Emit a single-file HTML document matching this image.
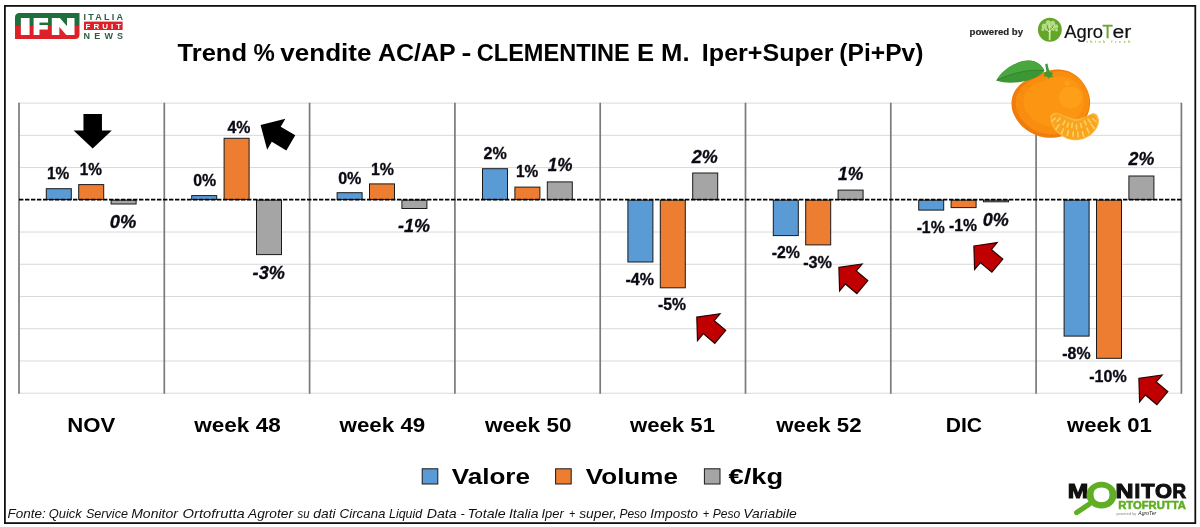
<!DOCTYPE html>
<html lang="it"><head><meta charset="utf-8"><title>Trend % vendite AC/AP - CLEMENTINE E M.</title>
<style>html,body{margin:0;padding:0;background:#fff;}body{width:1200px;height:527px;overflow:hidden;}svg{display:block;}text{white-space:pre;}</style>
</head><body>
<svg width="1200" height="527" viewBox="0 0 1200 527" role="img" aria-label="Trend % vendite AC/AP - CLEMENTINE E M. Iper+Super (Pi+Pv)">
<defs>
<linearGradient id="ifng" x1="0" y1="0" x2="0" y2="1"><stop offset="0" stop-color="#1f6e3b"/><stop offset="0.5" stop-color="#1f6e3b"/><stop offset="0.5" stop-color="#dc2128"/><stop offset="1" stop-color="#dc2128"/></linearGradient>
<radialGradient id="fr" cx="0.62" cy="0.45" r="0.65"><stop offset="0" stop-color="#fd9a12"/><stop offset="0.45" stop-color="#fb8f0c"/><stop offset="0.8" stop-color="#f5820b"/><stop offset="1" stop-color="#e9720a"/></radialGradient>
<linearGradient id="lf" x1="0" y1="0" x2="0.3" y2="1"><stop offset="0" stop-color="#46a13a"/><stop offset="1" stop-color="#2f8a2d"/></linearGradient>
</defs>
<rect width="1200" height="527" fill="#fff"/>
<rect x="4.9" y="5.9" width="1190.4" height="517.2" fill="#fff" stroke="#111" stroke-width="1.8"/>
<g stroke="#d9d9d9" stroke-width="1">
<line x1="19.0" y1="103.10" x2="1181.4" y2="103.10"/>
<line x1="19.0" y1="135.33" x2="1181.4" y2="135.33"/>
<line x1="19.0" y1="167.57" x2="1181.4" y2="167.57"/>
<line x1="19.0" y1="232.03" x2="1181.4" y2="232.03"/>
<line x1="19.0" y1="264.27" x2="1181.4" y2="264.27"/>
<line x1="19.0" y1="296.50" x2="1181.4" y2="296.50"/>
<line x1="19.0" y1="328.73" x2="1181.4" y2="328.73"/>
<line x1="19.0" y1="360.97" x2="1181.4" y2="360.97"/>
<line x1="19.0" y1="393.20" x2="1181.4" y2="393.20"/>
</g>
<g stroke="#7a7a7a" stroke-width="1.7">
<line x1="19.00" y1="102.8" x2="19.00" y2="393.8"/>
<line x1="164.30" y1="102.8" x2="164.30" y2="393.8"/>
<line x1="309.60" y1="102.8" x2="309.60" y2="393.8"/>
<line x1="454.90" y1="102.8" x2="454.90" y2="393.8"/>
<line x1="600.20" y1="102.8" x2="600.20" y2="393.8"/>
<line x1="745.50" y1="102.8" x2="745.50" y2="393.8"/>
<line x1="890.80" y1="102.8" x2="890.80" y2="393.8"/>
<line x1="1036.10" y1="102.8" x2="1036.10" y2="393.8"/>
<line x1="1181.40" y1="102.8" x2="1181.40" y2="393.8"/>
</g>
<g stroke="#1a1a1a" stroke-width="1">
<rect x="46.30" y="188.70" width="25.00" height="10.90" fill="#5b9bd5"/>
<rect x="78.70" y="184.60" width="25.00" height="15.00" fill="#ed7d31"/>
<rect x="111.10" y="200.10" width="25.00" height="3.90" fill="#a5a5a5"/>
<rect x="191.70" y="195.60" width="25.00" height="4.00" fill="#5b9bd5"/>
<rect x="224.10" y="138.30" width="25.00" height="61.30" fill="#ed7d31"/>
<rect x="256.50" y="200.10" width="25.00" height="54.50" fill="#a5a5a5"/>
<rect x="337.10" y="192.70" width="25.00" height="6.90" fill="#5b9bd5"/>
<rect x="369.50" y="183.90" width="25.00" height="15.70" fill="#ed7d31"/>
<rect x="401.90" y="200.10" width="25.00" height="8.40" fill="#a5a5a5"/>
<rect x="482.50" y="168.70" width="25.00" height="30.90" fill="#5b9bd5"/>
<rect x="514.90" y="187.10" width="25.00" height="12.50" fill="#ed7d31"/>
<rect x="547.30" y="181.90" width="25.00" height="17.70" fill="#a5a5a5"/>
<rect x="627.90" y="200.10" width="25.00" height="61.90" fill="#5b9bd5"/>
<rect x="660.30" y="200.10" width="25.00" height="87.70" fill="#ed7d31"/>
<rect x="692.70" y="173.00" width="25.00" height="26.60" fill="#a5a5a5"/>
<rect x="773.30" y="200.10" width="25.00" height="35.50" fill="#5b9bd5"/>
<rect x="805.70" y="200.10" width="25.00" height="44.80" fill="#ed7d31"/>
<rect x="838.10" y="190.10" width="25.00" height="9.50" fill="#a5a5a5"/>
<rect x="918.70" y="200.10" width="25.00" height="10.00" fill="#5b9bd5"/>
<rect x="951.10" y="200.10" width="25.00" height="7.50" fill="#ed7d31"/>
<rect x="983.50" y="200.10" width="25.00" height="1.70" fill="#a5a5a5"/>
<rect x="1064.10" y="200.10" width="25.00" height="136.00" fill="#5b9bd5"/>
<rect x="1096.50" y="200.10" width="25.00" height="158.20" fill="#ed7d31"/>
<rect x="1128.90" y="176.00" width="25.00" height="23.60" fill="#a5a5a5"/>
</g>
<line x1="19.0" y1="199.60" x2="1181.4" y2="199.60" stroke="#000" stroke-width="1.6" stroke-dasharray="4.4 1.6"/>
<polygon points="0.00,0.00 19.10,18.00 9.25,18.00 9.25,34.50 -9.25,34.50 -9.25,18.00 -19.10,18.00" transform="translate(92.70 148.50) rotate(180.00)" fill="#000"/>
<polygon points="0.00,0.00 17.90,18.20 8.75,18.20 8.75,35.10 -8.75,35.10 -8.75,18.20 -17.90,18.20" transform="translate(260.60 125.00) rotate(-59.40)" fill="#000"/>
<polygon points="0.00,0.00 17.50,15.60 8.50,15.60 8.50,30.60 -8.50,30.60 -8.50,15.60 -17.50,15.60" transform="translate(696.80 317.10) rotate(-50.00)" fill="#c00000" stroke="#2a0000" stroke-width="1.2" stroke-linejoin="miter"/>
<polygon points="0.00,0.00 17.50,15.60 8.50,15.60 8.50,30.60 -8.50,30.60 -8.50,15.60 -17.50,15.60" transform="translate(838.90 267.40) rotate(-50.00)" fill="#c00000" stroke="#2a0000" stroke-width="1.2" stroke-linejoin="miter"/>
<polygon points="0.00,0.00 17.50,15.60 8.50,15.60 8.50,30.60 -8.50,30.60 -8.50,15.60 -17.50,15.60" transform="translate(973.90 246.00) rotate(-50.00)" fill="#c00000" stroke="#2a0000" stroke-width="1.2" stroke-linejoin="miter"/>
<polygon points="0.00,0.00 17.50,15.60 8.50,15.60 8.50,30.60 -8.50,30.60 -8.50,15.60 -17.50,15.60" transform="translate(1138.90 378.40) rotate(-50.00)" fill="#c00000" stroke="#2a0000" stroke-width="1.2" stroke-linejoin="miter"/>
<rect x="422.2" y="468.8" width="15.6" height="15.2" fill="#5b9bd5" stroke="#1a1a1a" stroke-width="1"/>
<rect x="555.6" y="468.8" width="15.6" height="15.2" fill="#ed7d31" stroke="#1a1a1a" stroke-width="1"/>
<rect x="704.4" y="468.8" width="15.6" height="15.2" fill="#a5a5a5" stroke="#1a1a1a" stroke-width="1"/>
<path d="M19.5 13 H79.5 V34.5 Q79.5 39 75 39 H15 V17.5 Q15 13 19.5 13 Z" fill="url(#ifng)"/>
<rect x="84" y="21.6" width="38.6" height="8.4" fill="#dc2128"/>
<circle cx="1049.85" cy="29.8" r="11.95" fill="#63a628"/>
<g fill="none" stroke="#cfe9ac" stroke-linecap="round">
<path d="M1049.6 39.5 L1049.8 30.5" stroke-width="1.7"/>
<path d="M1049.8 33 L1045.5 28 M1049.8 31.5 L1054.5 26.5 M1049.8 30.5 L1049.5 24.5" stroke-width="1"/>
</g>
<g fill="#c4e39b" opacity="0.85">
<circle cx="1044.3" cy="26.2" r="2.6"/>
<circle cx="1048.2" cy="22.8" r="2.5"/>
<circle cx="1052.6" cy="23.2" r="2.5"/>
<circle cx="1055.8" cy="26.6" r="2.4"/>
<circle cx="1050.0" cy="26.4" r="2.2"/>
<circle cx="1042.8" cy="29.6" r="1.5"/>
<circle cx="1056.6" cy="30.2" r="1.4"/>
<circle cx="1046.4" cy="29.5" r="1.3"/>
<circle cx="1053.4" cy="29.6" r="1.3"/>
</g>
<g>
<path d="M1011.44 103.30 C1011.46 101.28 1011.71 99.19 1012.23 97.24 C1012.74 95.29 1013.57 93.36 1014.54 91.61 C1015.51 89.87 1016.75 88.23 1018.04 86.76 C1019.34 85.29 1020.82 83.98 1022.29 82.81 C1023.77 81.63 1025.36 80.63 1026.90 79.70 C1028.45 78.78 1030.03 78.01 1031.57 77.24 C1033.11 76.48 1034.61 75.77 1036.14 75.11 C1037.67 74.45 1039.19 73.87 1040.75 73.29 C1042.31 72.72 1043.86 72.15 1045.49 71.65 C1047.11 71.16 1048.77 70.66 1050.50 70.32 C1052.23 69.98 1054.02 69.70 1055.84 69.59 C1057.66 69.49 1059.56 69.47 1061.42 69.68 C1063.29 69.88 1065.22 70.24 1067.05 70.82 C1068.88 71.40 1070.69 72.21 1072.40 73.16 C1074.11 74.11 1075.77 75.24 1077.30 76.50 C1078.82 77.77 1080.25 79.21 1081.55 80.74 C1082.86 82.26 1084.08 83.92 1085.14 85.65 C1086.19 87.39 1087.15 89.24 1087.90 91.15 C1088.65 93.06 1089.25 95.08 1089.62 97.10 C1089.99 99.13 1090.15 101.24 1090.10 103.30 C1090.05 105.36 1089.78 107.45 1089.32 109.45 C1088.87 111.45 1088.19 113.43 1087.38 115.28 C1086.57 117.14 1085.55 118.93 1084.44 120.60 C1083.34 122.26 1082.07 123.83 1080.73 125.26 C1079.38 126.69 1077.91 128.01 1076.39 129.19 C1074.87 130.38 1073.26 131.44 1071.62 132.37 C1069.98 133.31 1068.27 134.11 1066.55 134.80 C1064.83 135.49 1063.06 136.05 1061.28 136.49 C1059.51 136.94 1057.71 137.26 1055.91 137.48 C1054.12 137.69 1052.30 137.79 1050.50 137.78 C1048.70 137.77 1046.89 137.66 1045.10 137.42 C1043.30 137.19 1041.51 136.85 1039.75 136.38 C1038.00 135.90 1036.25 135.31 1034.56 134.59 C1032.87 133.87 1031.20 133.02 1029.61 132.06 C1028.01 131.10 1026.45 130.02 1024.97 128.83 C1023.50 127.63 1022.08 126.32 1020.76 124.91 C1019.45 123.49 1018.19 121.96 1017.08 120.33 C1015.97 118.70 1014.93 116.95 1014.11 115.12 C1013.28 113.30 1012.56 111.35 1012.12 109.38 C1011.67 107.41 1011.42 105.32 1011.44 103.30 Z" fill="#f07d0b"/>
<path d="M1014.04 103.32 C1014.05 101.43 1014.30 99.48 1014.79 97.66 C1015.29 95.84 1016.08 94.05 1017.01 92.43 C1017.93 90.81 1019.13 89.30 1020.36 87.95 C1021.59 86.60 1023.00 85.40 1024.40 84.33 C1025.80 83.26 1027.30 82.37 1028.75 81.53 C1030.20 80.70 1031.68 80.02 1033.11 79.33 C1034.54 78.65 1035.93 78.01 1037.34 77.41 C1038.75 76.82 1040.15 76.29 1041.58 75.76 C1043.02 75.22 1044.44 74.69 1045.93 74.21 C1047.42 73.74 1048.95 73.26 1050.54 72.92 C1052.13 72.58 1053.79 72.29 1055.47 72.17 C1057.16 72.04 1058.92 72.00 1060.66 72.16 C1062.40 72.33 1064.20 72.64 1065.90 73.16 C1067.61 73.68 1069.31 74.42 1070.90 75.29 C1072.50 76.16 1074.06 77.20 1075.49 78.37 C1076.91 79.54 1078.25 80.88 1079.47 82.30 C1080.70 83.71 1081.84 85.25 1082.84 86.86 C1083.83 88.48 1084.73 90.20 1085.43 91.98 C1086.14 93.76 1086.71 95.65 1087.06 97.54 C1087.40 99.43 1087.55 101.40 1087.50 103.32 C1087.45 105.24 1087.19 107.20 1086.75 109.06 C1086.32 110.92 1085.67 112.76 1084.90 114.49 C1084.13 116.22 1083.17 117.88 1082.13 119.42 C1081.08 120.96 1079.88 122.41 1078.62 123.73 C1077.36 125.05 1075.98 126.26 1074.56 127.35 C1073.14 128.43 1071.64 129.41 1070.11 130.26 C1068.58 131.12 1066.99 131.85 1065.39 132.47 C1063.79 133.10 1062.15 133.60 1060.51 134.01 C1058.87 134.41 1057.20 134.71 1055.54 134.90 C1053.88 135.10 1052.20 135.19 1050.54 135.18 C1048.87 135.18 1047.20 135.07 1045.54 134.86 C1043.89 134.65 1042.22 134.35 1040.60 133.92 C1038.97 133.49 1037.35 132.95 1035.78 132.29 C1034.21 131.64 1032.66 130.86 1031.17 129.98 C1029.68 129.10 1028.22 128.11 1026.84 127.02 C1025.46 125.92 1024.13 124.72 1022.89 123.41 C1021.65 122.10 1020.47 120.69 1019.42 119.18 C1018.37 117.67 1017.38 116.05 1016.59 114.35 C1015.80 112.65 1015.11 110.84 1014.69 109.00 C1014.26 107.16 1014.02 105.21 1014.04 103.32 Z" fill="#f98d0f" transform="translate(1.6 -0.8)"/>
<path d="M1020.44 103.37 C1020.45 101.81 1020.67 100.19 1021.11 98.70 C1021.55 97.21 1022.26 95.73 1023.09 94.43 C1023.91 93.12 1024.98 91.92 1026.06 90.86 C1027.14 89.80 1028.37 88.89 1029.58 88.09 C1030.79 87.28 1032.07 86.64 1033.29 86.04 C1034.51 85.44 1035.74 84.98 1036.91 84.49 C1038.08 83.99 1039.18 83.53 1040.30 83.09 C1041.42 82.64 1042.52 82.25 1043.64 81.82 C1044.76 81.39 1045.85 80.94 1047.02 80.52 C1048.19 80.10 1049.38 79.66 1050.64 79.32 C1051.90 78.98 1053.22 78.68 1054.57 78.50 C1055.93 78.33 1057.36 78.21 1058.78 78.28 C1060.20 78.35 1061.69 78.54 1063.09 78.91 C1064.50 79.28 1065.90 79.85 1067.23 80.52 C1068.55 81.20 1069.84 82.03 1071.03 82.96 C1072.22 83.90 1073.33 84.99 1074.35 86.13 C1075.37 87.28 1076.34 88.53 1077.17 89.84 C1078.01 91.16 1078.78 92.57 1079.37 94.03 C1079.97 95.49 1080.46 97.04 1080.75 98.60 C1081.04 100.16 1081.16 101.79 1081.10 103.37 C1081.05 104.95 1080.81 106.57 1080.43 108.09 C1080.04 109.62 1079.48 111.13 1078.81 112.53 C1078.14 113.94 1077.31 115.28 1076.42 116.52 C1075.53 117.76 1074.51 118.91 1073.45 119.96 C1072.39 121.01 1071.23 121.95 1070.05 122.80 C1068.87 123.65 1067.63 124.40 1066.38 125.06 C1065.13 125.72 1063.83 126.27 1062.54 126.74 C1061.24 127.22 1059.92 127.60 1058.60 127.90 C1057.28 128.21 1055.95 128.42 1054.62 128.57 C1053.30 128.72 1051.96 128.79 1050.63 128.78 C1049.30 128.78 1047.97 128.71 1046.65 128.56 C1045.32 128.40 1043.99 128.19 1042.68 127.87 C1041.37 127.55 1040.06 127.14 1038.78 126.64 C1037.50 126.14 1036.24 125.55 1035.02 124.87 C1033.79 124.19 1032.59 123.42 1031.44 122.57 C1030.29 121.71 1029.17 120.76 1028.12 119.72 C1027.07 118.69 1026.06 117.56 1025.16 116.35 C1024.25 115.14 1023.39 113.83 1022.70 112.44 C1022.01 111.06 1021.40 109.57 1021.02 108.06 C1020.64 106.55 1020.42 104.93 1020.44 103.37 Z" fill="#fb9512" transform="translate(3 -2)"/>
<ellipse cx="1070.5" cy="97.5" rx="11.5" ry="11" fill="#fd9f17"/>
<circle cx="1067.2" cy="83.2" r="2.6" fill="#fd9f17"/>
<g fill="#e56f0a">
<circle cx="1019.0" cy="110.0" r="0.55"/>
<circle cx="1017.5" cy="100.0" r="0.55"/>
<circle cx="1021.0" cy="121.0" r="0.55"/>
<circle cx="1027.0" cy="128.5" r="0.55"/>
<circle cx="1035.0" cy="132.5" r="0.55"/>
<circle cx="1043.0" cy="134.6" r="0.55"/>
<circle cx="1052.0" cy="135.0" r="0.55"/>
<circle cx="1022.0" cy="92.0" r="0.55"/>
<circle cx="1028.0" cy="86.0" r="0.55"/>
</g>
<path d="M996.3 80.6 C1001 71 1015 60.8 1028.6 60.6 C1036.5 60.6 1042 65 1044.4 70.8 C1040.5 75.6 1034 79 1026.5 80.8 C1018 82.8 1006 84 996.3 80.6 Z" fill="#3b9634"/>
<path d="M996.3 80.6 C1001 71 1015 60.8 1028.6 60.6 C1036.5 60.6 1042 65 1044.4 70.8 C1034 68.8 1012 72.5 996.3 80.6 Z" fill="#4aa63e"/>
<path d="M996.8 80.4 C1010 73.5 1030 68.6 1044 70.8" fill="none" stroke="#2e8230" stroke-width="0.9"/>
<path d="M1045.2 64.2 L1047.5 63.5 C1048 67 1048.8 70 1050 72 L1053 73 L1052 75.2 L1053 77.2 L1050.2 77 L1048.6 78.6 L1047 76.6 L1043.6 76.6 L1044.8 74.2 L1043.4 72.6 L1046.6 72 C1046 69.5 1045.6 67 1045.2 64.2 Z" fill="#3f9935"/>
<path d="M1050.30 116.60 C1050.68 114.35 1053.25 113.28 1054.90 112.80 C1056.55 112.32 1058.05 112.98 1060.20 113.70 C1062.35 114.42 1065.02 116.22 1067.80 117.10 C1070.58 117.98 1073.87 119.12 1076.90 119.00 C1079.93 118.88 1083.47 117.33 1086.00 116.40 C1088.53 115.47 1090.33 113.70 1092.10 113.40 C1093.87 113.10 1095.47 113.47 1096.60 114.60 C1097.73 115.73 1098.77 118.13 1098.90 120.20 C1099.03 122.27 1098.53 124.72 1097.40 127.00 C1096.27 129.28 1094.25 132.00 1092.10 133.90 C1089.95 135.80 1087.28 137.35 1084.50 138.40 C1081.72 139.45 1078.43 140.20 1075.40 140.20 C1072.37 140.20 1069.22 139.58 1066.30 138.40 C1063.38 137.22 1060.18 135.12 1057.90 133.10 C1055.62 131.08 1053.87 129.05 1052.60 126.30 C1051.33 123.55 1049.92 118.85 1050.30 116.60 Z" fill="#fbb63c"/>
<path d="M1051.93 117.07 C1052.29 114.98 1054.79 114.00 1056.40 113.60 C1058.02 113.19 1059.51 113.86 1061.62 114.63 C1063.74 115.40 1066.62 117.21 1069.09 118.21 C1071.56 119.21 1073.88 120.78 1076.46 120.64 C1079.05 120.51 1082.25 118.44 1084.62 117.39 C1086.98 116.33 1088.93 114.66 1090.66 114.31 C1092.40 113.96 1093.95 114.26 1095.04 115.28 C1096.14 116.31 1097.11 118.55 1097.22 120.46 C1097.33 122.37 1096.81 124.66 1095.72 126.75 C1094.62 128.85 1092.67 131.31 1090.65 133.01 C1088.63 134.71 1086.15 136.03 1083.62 136.95 C1081.08 137.86 1078.16 138.50 1075.42 138.50 C1072.69 138.50 1069.88 138.00 1067.22 136.97 C1064.55 135.94 1061.56 134.12 1059.41 132.31 C1057.25 130.50 1055.54 128.66 1054.29 126.12 C1053.05 123.58 1051.58 119.15 1051.93 117.07 Z" fill="#f9a41f" transform="translate(0 0.5)"/>
<g stroke="#fccd62" stroke-width="1.7" stroke-linecap="round" fill="none">
<line x1="1055.2" y1="118.3" x2="1052.0" y2="120.9"/>
<line x1="1060.1" y1="118.1" x2="1057.3" y2="121.1"/>
<line x1="1065.0" y1="120.9" x2="1063.0" y2="124.7"/>
<line x1="1068.4" y1="123.3" x2="1067.2" y2="127.3"/>
<line x1="1072.3" y1="123.2" x2="1071.7" y2="127.4"/>
<line x1="1076.4" y1="124.9" x2="1076.6" y2="129.1"/>
<line x1="1080.6" y1="123.5" x2="1081.6" y2="127.5"/>
<line x1="1084.3" y1="120.9" x2="1086.1" y2="124.7"/>
<line x1="1088.1" y1="119.3" x2="1090.7" y2="122.7"/>
<line x1="1092.9" y1="118.8" x2="1095.9" y2="121.6"/>
<line x1="1058.9" y1="125.0" x2="1056.1" y2="129.0"/>
<line x1="1063.4" y1="129.0" x2="1061.6" y2="133.4"/>
<line x1="1068.3" y1="130.8" x2="1067.3" y2="135.4"/>
<line x1="1073.2" y1="131.8" x2="1073.0" y2="136.6"/>
<line x1="1077.8" y1="132.2" x2="1078.2" y2="137.0"/>
<line x1="1082.4" y1="131.6" x2="1083.6" y2="136.2"/>
<line x1="1086.9" y1="128.2" x2="1088.9" y2="132.6"/>
<line x1="1091.4" y1="124.4" x2="1094.2" y2="128.2"/>
</g>
</g>
<text font-family='"Liberation Sans", sans-serif'><tspan x="177.54" y="60.80" font-size="23.40" font-weight="bold" font-style="normal" fill="#000" textLength="69.55" lengthAdjust="spacingAndGlyphs">Trend</tspan> <tspan x="253.47" y="60.80" font-size="23.40" font-weight="bold" font-style="normal" fill="#000" textLength="21.32" lengthAdjust="spacingAndGlyphs">%</tspan> <tspan x="280.25" y="60.80" font-size="23.40" font-weight="bold" font-style="normal" fill="#000" textLength="91.27" lengthAdjust="spacingAndGlyphs">vendite</tspan> <tspan x="378.03" y="60.80" font-size="23.40" font-weight="bold" font-style="normal" fill="#000" textLength="77.78" lengthAdjust="spacingAndGlyphs">AC/AP</tspan> <tspan x="461.42" y="60.80" font-size="23.40" font-weight="bold" font-style="normal" fill="#000" textLength="9.90" lengthAdjust="spacingAndGlyphs">-</tspan> <tspan x="476.79" y="60.80" font-size="23.40" font-weight="bold" font-style="normal" fill="#000" textLength="153.02" lengthAdjust="spacingAndGlyphs">CLEMENTINE</tspan> <tspan x="636.90" y="60.80" font-size="23.40" font-weight="bold" font-style="normal" fill="#000" textLength="52.71" lengthAdjust="spacingAndGlyphs">E M.</tspan> <tspan x="701.88" y="60.80" font-size="23.40" font-weight="bold" font-style="normal" fill="#000" textLength="131.53" lengthAdjust="spacingAndGlyphs">Iper+Super</tspan> <tspan x="839.37" y="60.80" font-size="23.40" font-weight="bold" font-style="normal" fill="#000" textLength="84.07" lengthAdjust="spacingAndGlyphs">(Pi+Pv)</tspan></text>
<text font-family='"Liberation Sans", sans-serif' x="46.91" y="178.80" font-size="16.30" font-weight="bold" font-style="normal" fill="#0a0a14" textLength="22.30" lengthAdjust="spacingAndGlyphs" stroke="#0a0a14" stroke-width="0.3">1%</text>
<text font-family='"Liberation Sans", sans-serif' x="79.71" y="174.50" font-size="16.30" font-weight="bold" font-style="normal" fill="#0a0a14" textLength="22.30" lengthAdjust="spacingAndGlyphs" stroke="#0a0a14" stroke-width="0.3">1%</text>
<text font-family='"Liberation Sans", sans-serif' x="109.88" y="227.60" font-size="17.90" font-weight="bold" font-style="italic" fill="#0a0a14" textLength="26.53" lengthAdjust="spacingAndGlyphs" stroke="#0a0a14" stroke-width="0.3">0%</text>
<text font-family='"Liberation Sans", sans-serif' x="193.14" y="186.40" font-size="16.30" font-weight="bold" font-style="normal" fill="#0a0a14" textLength="23.02" lengthAdjust="spacingAndGlyphs" stroke="#0a0a14" stroke-width="0.3">0%</text>
<text font-family='"Liberation Sans", sans-serif' x="227.50" y="132.80" font-size="16.30" font-weight="bold" font-style="normal" fill="#0a0a14" textLength="23.00" lengthAdjust="spacingAndGlyphs" stroke="#0a0a14" stroke-width="0.3">4%</text>
<text font-family='"Liberation Sans", sans-serif' x="252.64" y="279.10" font-size="17.90" font-weight="bold" font-style="italic" fill="#0a0a14" textLength="32.27" lengthAdjust="spacingAndGlyphs" stroke="#0a0a14" stroke-width="0.3">-3%</text>
<text font-family='"Liberation Sans", sans-serif' x="338.14" y="183.70" font-size="16.30" font-weight="bold" font-style="normal" fill="#0a0a14" textLength="23.27" lengthAdjust="spacingAndGlyphs" stroke="#0a0a14" stroke-width="0.3">0%</text>
<text font-family='"Liberation Sans", sans-serif' x="371.00" y="175.00" font-size="16.30" font-weight="bold" font-style="normal" fill="#0a0a14" textLength="23.06" lengthAdjust="spacingAndGlyphs" stroke="#0a0a14" stroke-width="0.3">1%</text>
<text font-family='"Liberation Sans", sans-serif' x="398.04" y="232.10" font-size="17.90" font-weight="bold" font-style="italic" fill="#0a0a14" textLength="32.02" lengthAdjust="spacingAndGlyphs" stroke="#0a0a14" stroke-width="0.3">-1%</text>
<text font-family='"Liberation Sans", sans-serif' x="483.48" y="159.00" font-size="16.30" font-weight="bold" font-style="normal" fill="#0a0a14" textLength="23.28" lengthAdjust="spacingAndGlyphs" stroke="#0a0a14" stroke-width="0.3">2%</text>
<text font-family='"Liberation Sans", sans-serif' x="516.01" y="177.30" font-size="16.30" font-weight="bold" font-style="normal" fill="#0a0a14" textLength="22.30" lengthAdjust="spacingAndGlyphs" stroke="#0a0a14" stroke-width="0.3">1%</text>
<text font-family='"Liberation Sans", sans-serif' x="547.70" y="170.70" font-size="17.90" font-weight="bold" font-style="italic" fill="#0a0a14" textLength="24.76" lengthAdjust="spacingAndGlyphs" stroke="#0a0a14" stroke-width="0.3">1%</text>
<text font-family='"Liberation Sans", sans-serif' x="625.48" y="285.20" font-size="16.30" font-weight="bold" font-style="normal" fill="#0a0a14" textLength="28.53" lengthAdjust="spacingAndGlyphs" stroke="#0a0a14" stroke-width="0.3">-4%</text>
<text font-family='"Liberation Sans", sans-serif' x="658.09" y="309.80" font-size="16.30" font-weight="bold" font-style="normal" fill="#0a0a14" textLength="28.02" lengthAdjust="spacingAndGlyphs" stroke="#0a0a14" stroke-width="0.3">-5%</text>
<text font-family='"Liberation Sans", sans-serif' x="691.85" y="162.80" font-size="17.90" font-weight="bold" font-style="italic" fill="#0a0a14" textLength="26.00" lengthAdjust="spacingAndGlyphs" stroke="#0a0a14" stroke-width="0.3">2%</text>
<text font-family='"Liberation Sans", sans-serif' x="771.64" y="257.60" font-size="16.30" font-weight="bold" font-style="normal" fill="#0a0a14" textLength="28.26" lengthAdjust="spacingAndGlyphs" stroke="#0a0a14" stroke-width="0.3">-2%</text>
<text font-family='"Liberation Sans", sans-serif' x="803.18" y="267.80" font-size="16.30" font-weight="bold" font-style="normal" fill="#0a0a14" textLength="28.78" lengthAdjust="spacingAndGlyphs" stroke="#0a0a14" stroke-width="0.3">-3%</text>
<text font-family='"Liberation Sans", sans-serif' x="838.04" y="179.50" font-size="17.90" font-weight="bold" font-style="italic" fill="#0a0a14" textLength="25.27" lengthAdjust="spacingAndGlyphs" stroke="#0a0a14" stroke-width="0.3">1%</text>
<text font-family='"Liberation Sans", sans-serif' x="916.64" y="232.70" font-size="16.30" font-weight="bold" font-style="normal" fill="#0a0a14" textLength="28.02" lengthAdjust="spacingAndGlyphs" stroke="#0a0a14" stroke-width="0.3">-1%</text>
<text font-family='"Liberation Sans", sans-serif' x="948.98" y="231.00" font-size="16.30" font-weight="bold" font-style="normal" fill="#0a0a14" textLength="28.02" lengthAdjust="spacingAndGlyphs" stroke="#0a0a14" stroke-width="0.3">-1%</text>
<text font-family='"Liberation Sans", sans-serif' x="982.68" y="225.70" font-size="17.90" font-weight="bold" font-style="italic" fill="#0a0a14" textLength="26.03" lengthAdjust="spacingAndGlyphs" stroke="#0a0a14" stroke-width="0.3">0%</text>
<text font-family='"Liberation Sans", sans-serif' x="1062.29" y="358.70" font-size="16.30" font-weight="bold" font-style="normal" fill="#0a0a14" textLength="28.27" lengthAdjust="spacingAndGlyphs" stroke="#0a0a14" stroke-width="0.3">-8%</text>
<text font-family='"Liberation Sans", sans-serif' x="1089.19" y="381.50" font-size="16.30" font-weight="bold" font-style="normal" fill="#0a0a14" textLength="37.52" lengthAdjust="spacingAndGlyphs" stroke="#0a0a14" stroke-width="0.3">-10%</text>
<text font-family='"Liberation Sans", sans-serif' x="1128.50" y="164.90" font-size="17.90" font-weight="bold" font-style="italic" fill="#0a0a14" textLength="25.75" lengthAdjust="spacingAndGlyphs" stroke="#0a0a14" stroke-width="0.3">2%</text>
<text font-family='"Liberation Sans", sans-serif' x="67.19" y="431.90" font-size="21.00" font-weight="bold" font-style="normal" fill="#000" textLength="48.07" lengthAdjust="spacingAndGlyphs">NOV</text>
<text font-family='"Liberation Sans", sans-serif' x="194.25" y="431.90" font-size="21.00" font-weight="bold" font-style="normal" fill="#000" textLength="86.51" lengthAdjust="spacingAndGlyphs">week 48</text>
<text font-family='"Liberation Sans", sans-serif' x="339.50" y="431.90" font-size="21.00" font-weight="bold" font-style="normal" fill="#000" textLength="85.76" lengthAdjust="spacingAndGlyphs">week 49</text>
<text font-family='"Liberation Sans", sans-serif' x="485.00" y="431.90" font-size="21.00" font-weight="bold" font-style="normal" fill="#000" textLength="86.51" lengthAdjust="spacingAndGlyphs">week 50</text>
<text font-family='"Liberation Sans", sans-serif' x="630.00" y="431.90" font-size="21.00" font-weight="bold" font-style="normal" fill="#000" textLength="85.00" lengthAdjust="spacingAndGlyphs">week 51</text>
<text font-family='"Liberation Sans", sans-serif' x="776.25" y="431.90" font-size="21.00" font-weight="bold" font-style="normal" fill="#000" textLength="85.26" lengthAdjust="spacingAndGlyphs">week 52</text>
<text font-family='"Liberation Sans", sans-serif' x="945.67" y="431.90" font-size="21.00" font-weight="bold" font-style="normal" fill="#000" textLength="36.36" lengthAdjust="spacingAndGlyphs">DIC</text>
<text font-family='"Liberation Sans", sans-serif' x="1067.00" y="431.90" font-size="21.00" font-weight="bold" font-style="normal" fill="#000" textLength="84.76" lengthAdjust="spacingAndGlyphs">week 01</text>
<text font-family='"Liberation Sans", sans-serif' x="451.75" y="484.30" font-size="22.70" font-weight="bold" font-style="normal" fill="#000" textLength="78.27" lengthAdjust="spacingAndGlyphs">Valore</text>
<text font-family='"Liberation Sans", sans-serif' x="585.85" y="484.30" font-size="22.70" font-weight="bold" font-style="normal" fill="#000" textLength="92.01" lengthAdjust="spacingAndGlyphs">Volume</text>
<text font-family='"Liberation Sans", sans-serif' x="728.54" y="484.30" font-size="22.70" font-weight="bold" font-style="normal" fill="#000" textLength="54.58" lengthAdjust="spacingAndGlyphs">€/kg</text>
<text font-family='"Liberation Sans", sans-serif'><tspan x="7.49" y="518.20" font-size="13.20" font-weight="normal" font-style="italic" fill="#111" textLength="38.28" lengthAdjust="spacingAndGlyphs">Fonte:</tspan> <tspan x="48.74" y="518.20" font-size="13.20" font-weight="normal" font-style="italic" fill="#111" textLength="33.01" lengthAdjust="spacingAndGlyphs">Quick</tspan> <tspan x="85.95" y="518.20" font-size="13.20" font-weight="normal" font-style="italic" fill="#111" textLength="42.01" lengthAdjust="spacingAndGlyphs">Service</tspan> <tspan x="131.20" y="518.20" font-size="13.20" font-weight="normal" font-style="italic" fill="#111" textLength="46.75" lengthAdjust="spacingAndGlyphs">Monitor</tspan> <tspan x="182.53" y="518.20" font-size="13.20" font-weight="normal" font-style="italic" fill="#111" textLength="62.28" lengthAdjust="spacingAndGlyphs">Ortofrutta</tspan> <tspan x="247.99" y="518.20" font-size="13.20" font-weight="normal" font-style="italic" fill="#111" textLength="45.02" lengthAdjust="spacingAndGlyphs">Agroter</tspan> <tspan x="297.50" y="518.20" font-size="13.20" font-weight="normal" font-style="italic" fill="#111" textLength="12.01" lengthAdjust="spacingAndGlyphs">su</tspan> <tspan x="313.29" y="518.20" font-size="13.20" font-weight="normal" font-style="italic" fill="#111" textLength="22.25" lengthAdjust="spacingAndGlyphs">dati</tspan> <tspan x="339.53" y="518.20" font-size="13.20" font-weight="normal" font-style="italic" fill="#111" textLength="46.04" lengthAdjust="spacingAndGlyphs">Circana</tspan> <tspan x="389.00" y="518.20" font-size="13.20" font-weight="normal" font-style="italic" fill="#111" textLength="33.25" lengthAdjust="spacingAndGlyphs">Liquid</tspan> <tspan x="426.68" y="518.20" font-size="13.20" font-weight="normal" font-style="italic" fill="#111" textLength="30.04" lengthAdjust="spacingAndGlyphs">Data</tspan> <tspan x="460.54" y="518.20" font-size="13.20" font-weight="normal" font-style="italic" fill="#111" textLength="4.24" lengthAdjust="spacingAndGlyphs">-</tspan> <tspan x="467.48" y="518.20" font-size="13.20" font-weight="normal" font-style="italic" fill="#111" textLength="38.09" lengthAdjust="spacingAndGlyphs">Totale</tspan> <tspan x="508.98" y="518.20" font-size="13.20" font-weight="normal" font-style="italic" fill="#111" textLength="29.54" lengthAdjust="spacingAndGlyphs">Italia</tspan> <tspan x="541.50" y="518.20" font-size="13.20" font-weight="normal" font-style="italic" fill="#111" textLength="22.25" lengthAdjust="spacingAndGlyphs">Iper</tspan> <tspan x="569.11" y="518.20" font-size="13.20" font-weight="normal" font-style="italic" fill="#111" textLength="6.18" lengthAdjust="spacingAndGlyphs">+</tspan> <tspan x="579.20" y="518.20" font-size="13.20" font-weight="normal" font-style="italic" fill="#111" textLength="37.58" lengthAdjust="spacingAndGlyphs">super,</tspan> <tspan x="619.44" y="518.20" font-size="13.20" font-weight="normal" font-style="italic" fill="#111" textLength="27.27" lengthAdjust="spacingAndGlyphs">Peso</tspan> <tspan x="650.29" y="518.20" font-size="13.20" font-weight="normal" font-style="italic" fill="#111" textLength="47.77" lengthAdjust="spacingAndGlyphs">Imposto</tspan> <tspan x="702.65" y="518.20" font-size="13.20" font-weight="normal" font-style="italic" fill="#111" textLength="6.42" lengthAdjust="spacingAndGlyphs">+</tspan> <tspan x="712.78" y="518.20" font-size="13.20" font-weight="normal" font-style="italic" fill="#111" textLength="27.52" lengthAdjust="spacingAndGlyphs">Peso</tspan> <tspan x="743.21" y="518.20" font-size="13.20" font-weight="normal" font-style="italic" fill="#111" textLength="53.56" lengthAdjust="spacingAndGlyphs">Variabile</tspan></text>
<text font-family='"Liberation Sans", sans-serif' x="969.59" y="35.30" font-size="9.80" font-weight="bold" font-style="normal" fill="#262626" textLength="53.51" lengthAdjust="spacingAndGlyphs" stroke="#262626" stroke-width="0.2">powered by</text>
<text font-family='"Liberation Sans", sans-serif'><tspan x="20.17" y="34.20" font-size="22.60" font-weight="bold" font-style="normal" fill="#fff" textLength="9.93" lengthAdjust="spacingAndGlyphs" stroke="#fff" stroke-width="2.2" stroke-linejoin="miter">I</tspan><tspan x="33.29" y="34.20" font-size="22.60" font-weight="bold" font-style="normal" fill="#fff" textLength="14.51" lengthAdjust="spacingAndGlyphs" stroke="#fff" stroke-width="2.2" stroke-linejoin="miter">F</tspan><tspan x="51.37" y="34.20" font-size="22.60" font-weight="bold" font-style="normal" fill="#fff" textLength="23.82" lengthAdjust="spacingAndGlyphs" stroke="#fff" stroke-width="2.2" stroke-linejoin="miter">N</tspan></text>
<text font-family='"Liberation Sans", sans-serif' x="83.55" y="19.60" font-size="9.00" font-weight="bold" font-style="normal" fill="#2a5f41" textLength="39.40" lengthAdjust="spacing">ITALIA</text>
<text font-family='"Liberation Sans", sans-serif' x="85.50" y="28.80" font-size="8.00" font-weight="bold" font-style="normal" fill="#fff" textLength="35.62" lengthAdjust="spacing">FRUIT</text>
<text font-family='"Liberation Sans", sans-serif' x="83.55" y="39.20" font-size="9.00" font-weight="bold" font-style="normal" fill="#2a5f41" textLength="39.50" lengthAdjust="spacing">NEWS</text>
<text font-family='"Liberation Sans", sans-serif'><tspan x="1064.20" y="38.40" font-size="17.60" font-weight="normal" font-style="normal" fill="#111" textLength="38.76" lengthAdjust="spacingAndGlyphs" stroke="#111" stroke-width="0.2">Agro</tspan><tspan x="1102.54" y="38.40" font-size="18.60" font-weight="normal" font-style="normal" fill="#6aa62f" textLength="10.28" lengthAdjust="spacingAndGlyphs" stroke="#6aa62f" stroke-width="0.3">T</tspan><tspan x="1112.61" y="38.40" font-size="17.60" font-weight="normal" font-style="normal" fill="#111" textLength="18.81" lengthAdjust="spacingAndGlyphs" stroke="#111" stroke-width="0.2">er</tspan></text>
<text font-family='"Liberation Sans", sans-serif' x="1086.40" y="43.20" font-size="3.60" font-weight="bold" font-style="normal" fill="#86bb52" textLength="44.02" lengthAdjust="spacing">think fresh</text>
<text font-family='"Liberation Sans", sans-serif'><tspan x="1067.69" y="498.20" font-size="20.60" font-weight="bold" font-style="normal" fill="#111" textLength="20.46" lengthAdjust="spacingAndGlyphs" stroke="#111" stroke-width="1.1">M</tspan><tspan x="1085.92" y="506.40" font-size="33.00" font-weight="bold" font-style="normal" fill="#5fae23" textLength="31.11" lengthAdjust="spacingAndGlyphs">O</tspan><tspan x="1115.47" y="498.20" font-size="20.60" font-weight="bold" font-style="normal" fill="#111" textLength="18.00" lengthAdjust="spacingAndGlyphs" stroke="#111" stroke-width="1.1">N</tspan><tspan x="1134.51" y="498.20" font-size="20.60" font-weight="bold" font-style="normal" fill="#111" textLength="5.68" lengthAdjust="spacingAndGlyphs" stroke="#111" stroke-width="1.1">I</tspan><tspan x="1141.18" y="498.20" font-size="20.60" font-weight="bold" font-style="normal" fill="#111" textLength="13.29" lengthAdjust="spacingAndGlyphs" stroke="#111" stroke-width="1.1">T</tspan><tspan x="1154.94" y="498.20" font-size="20.60" font-weight="bold" font-style="normal" fill="#111" textLength="17.03" lengthAdjust="spacingAndGlyphs" stroke="#111" stroke-width="1.1">O</tspan><tspan x="1172.53" y="498.20" font-size="20.60" font-weight="bold" font-style="normal" fill="#111" textLength="13.51" lengthAdjust="spacingAndGlyphs" stroke="#111" stroke-width="1.1">R</tspan></text>
<text font-family='"Liberation Sans", sans-serif' x="1118.15" y="509.00" font-size="10.20" font-weight="bold" font-style="normal" fill="#5fae23" textLength="67.75" lengthAdjust="spacingAndGlyphs" stroke="#5fae23" stroke-width="0.5">RTOFRUTTA</text>
<text font-family='"Liberation Sans", sans-serif'><tspan x="1116.44" y="515.20" font-size="3.60" font-weight="normal" font-style="normal" fill="#888" textLength="19.76" lengthAdjust="spacingAndGlyphs">powered by</tspan> <tspan x="1138.25" y="515.40" font-size="5.60" font-weight="normal" font-style="italic" fill="#222" textLength="18.01" lengthAdjust="spacingAndGlyphs">AgroTer</tspan></text>
<ellipse cx="1101.5" cy="495.1" rx="12.1" ry="10.5" fill="none" stroke="#5fae23" stroke-width="5.8"/>
<line x1="1089.2" y1="504.2" x2="1076.6" y2="512.6" stroke="#5fae23" stroke-width="5.2" stroke-linecap="round"/>
</svg>
</body></html>
